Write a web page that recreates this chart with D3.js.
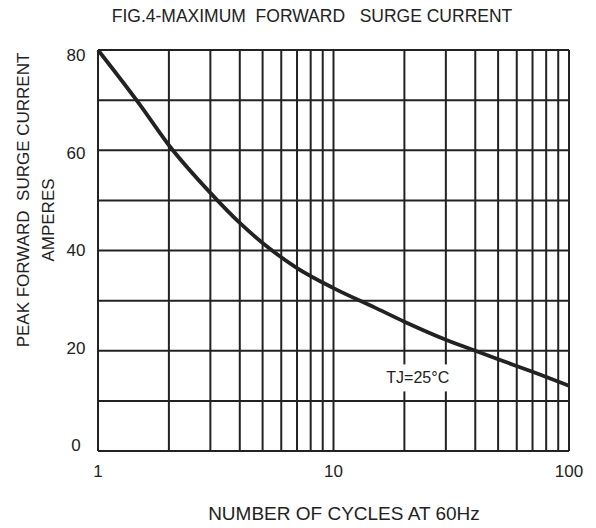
<!DOCTYPE html>
<html>
<head>
<meta charset="utf-8">
<script src="https://cdn.jsdelivr.net/npm/d3@7"></script>
<style>
  body { margin: 0; background: #fff; }
  text { font-family: "Liberation Sans", Arial, sans-serif; fill: #222; }
</style>
</head>
<body>
<div id="canvas"></div>
<script>
// data
var cycles = [1, 1.5, 2, 3, 4, 5, 7, 10, 15, 20, 30, 40, 50, 70, 100];
var amps   = [80, 69.2, 61, 51.5, 45.5, 41.5, 36.5, 32.5, 28.6, 25.8, 22.2, 20.0, 18.3, 15.8, 13.0];

var xGrid = [1, 2, 3, 4, 5, 6, 7, 8, 9, 10, 20, 30, 40, 50, 60, 70, 80, 90, 100];
var yGrid = [0, 10, 20, 30, 40, 50, 60, 70, 80];
var xTickLabels = [1, 10, 100];
var yTickLabels = [0, 20, 40, 60, 80];

var outerWidth = 596, outerHeight = 528;
var m = {t:50, r:27, b:77, l:98};
var w = outerWidth - m.l - m.r,
    h = outerHeight - m.t - m.b;

var svg = d3.select('#canvas')
    .append('svg')
    .attr('width', outerWidth)
    .attr('height', outerHeight);

var plot = svg.append('g')
    .attr('transform', 'translate(' + m.l + ',' + m.t + ')');

var scaleX = d3.scaleLog().domain([1, 100]).range([0, w]);
var scaleY = d3.scaleLinear().domain([0, 80]).range([h, 0]);
// the printed y labels sit a little inside the end gridlines
var labelY = scaleY.copy().range([h - 5.5, 5]);

// grid
plot.selectAll('.vgrid')
    .data(xGrid)
    .enter()
    .append('line')
    .attr('x1', function(d){return scaleX(d)})
    .attr('x2', function(d){return scaleX(d)})
    .attr('y1', 0)
    .attr('y2', h)
    .style('stroke', '#222')
    .style('stroke-width', 2);

plot.selectAll('.hgrid')
    .data(yGrid)
    .enter()
    .append('line')
    .attr('x1', 0)
    .attr('x2', w)
    .attr('y1', function(d){return scaleY(d)})
    .attr('y2', function(d){return scaleY(d)})
    .style('stroke', '#222')
    .style('stroke-width', 2);

// tick labels
plot.selectAll('.xlab')
    .data(xTickLabels)
    .enter()
    .append('text')
    .attr('x', function(d){return scaleX(d)})
    .attr('y', h + 26)
    .attr('text-anchor', 'middle')
    .style('font-size', '17px')
    .text(function(d){return d});

plot.selectAll('.ylab')
    .data(yTickLabels)
    .enter()
    .append('text')
    .attr('x', -22)
    .attr('y', function(d){return labelY(d)})
    .attr('dy', '0.35em')
    .attr('text-anchor', 'middle')
    .style('font-size', '17px')
    .text(function(d){return d});

// curve
var line = d3.line()
    .x(function(d){return scaleX(d[0])})
    .y(function(d){return scaleY(d[1])})
    .curve(d3.curveMonotoneX);

plot.append('path')
    .datum(cycles.map(function(c, i){return [c, amps[i]]}))
    .attr('d', line)
    .style('fill', 'none')
    .style('stroke', '#222')
    .style('stroke-width', 3.8);

// TJ label with white box
var note = plot.append('g');
var noteText = note.append('text')
    .attr('x', scaleX(22.8))
    .attr('y', scaleY(14.6))
    .attr('dy', '0.35em')
    .attr('text-anchor', 'middle')
    .style('font-size', '16px')
    .text('TJ=25°C');
var bb = noteText.node().getBBox();
note.insert('rect', 'text')
    .attr('x', bb.x - 2)
    .attr('y', bb.y - 5)
    .attr('width', bb.width + 4)
    .attr('height', bb.height + 10)
    .style('fill', '#fff');

// titles
svg.append('text')
    .attr('x', 312)
    .attr('y', 22)
    .attr('text-anchor', 'middle')
    .attr('xml:space', 'preserve')
    .style('white-space', 'pre')
    .style('font-size', '17.5px')
    .text('FIG.4-MAXIMUM  FORWARD   SURGE CURRENT');

svg.append('text')
    .attr('x', 344)
    .attr('y', 520)
    .attr('text-anchor', 'middle')
    .style('font-size', '19px')
    .text('NUMBER OF CYCLES AT 60Hz');

svg.append('text')
    .attr('transform', 'translate(29,200) rotate(-90)')
    .attr('text-anchor', 'middle')
    .attr('xml:space', 'preserve')
    .style('white-space', 'pre')
    .style('font-size', '17px')
    .text('PEAK FORWARD  SURGE CURRENT');

svg.append('text')
    .attr('transform', 'translate(54,220) rotate(-90)')
    .attr('text-anchor', 'middle')
    .style('font-size', '17px')
    .text('AMPERES');
</script>
</body>
</html>
